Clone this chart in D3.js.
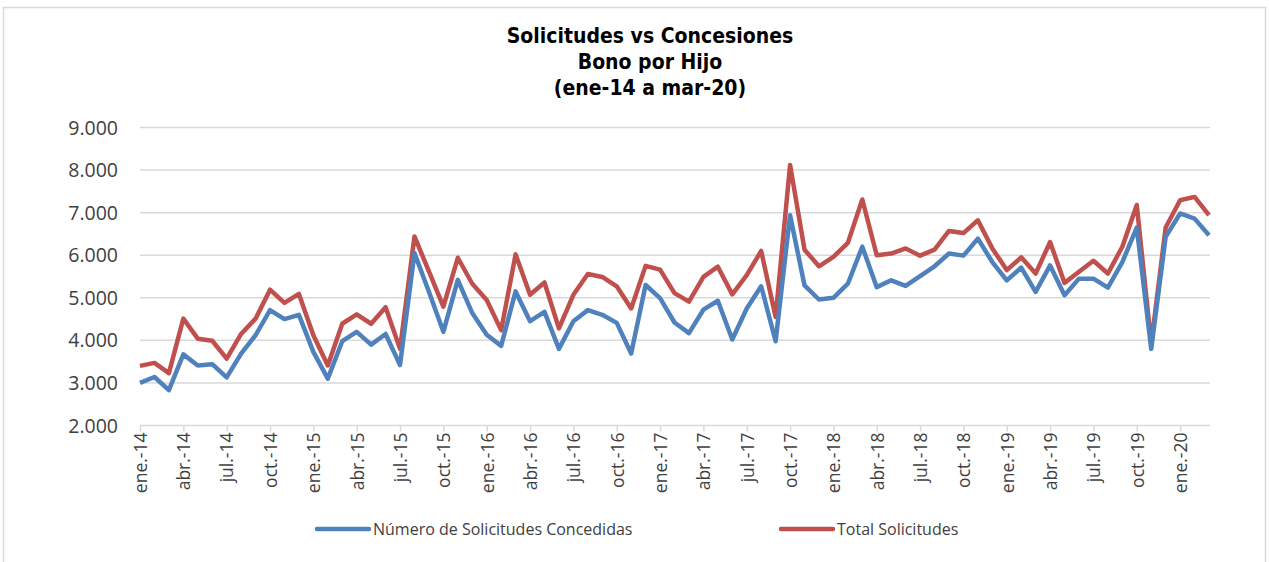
<!DOCTYPE html>
<html>
<head>
<meta charset="utf-8">
<script src="https://cdn.jsdelivr.net/npm/d3@7"></script>
<style>
  body { margin: 0; background: #fff; }
  text { font-family: "Open Sans", "Noto Sans", sans-serif; fill: #404040; }
</style>
</head>
<body>
<div id="chart"></div>
<script>
// month labels ene.-14 ... mar.-20
const monthNames = ["ene.","feb.","mar.","abr.","may.","jun.","jul.","ago.","sep.","oct.","nov.","dic."];
const months = [];
for (let y = 14; y <= 20; y++) {
    for (let m = 0; m < 12; m++) {
        if (y == 20 && m > 2) break;
        months.push(monthNames[m] + "-" + y);
    }
}

// Número de Solicitudes Concedidas
const concedidas = [
    3000, 3140, 2830, 3670, 3410, 3440, 3130, 3690, 4120, 4710, 4500, 4600,
    3730, 3100, 3980, 4200, 3900, 4150, 3420, 6050, 5140, 4200, 5420, 4640,
    4130, 3870, 5150, 4450, 4670, 3800, 4450, 4710, 4600, 4410, 3690, 5300,
    4990, 4420, 4170, 4720, 4930, 4020, 4750, 5270, 3980, 6940, 5290, 4960,
    5000, 5330, 6200, 5250, 5410, 5280, 5510, 5740, 6040, 5990, 6390, 5840,
    5410, 5710, 5140, 5760, 5060, 5450, 5450, 5240, 5840, 6650, 3800, 6430,
    6980, 6860, 6470
];
// Total Solicitudes
const totales = [
    3400, 3470, 3230, 4510, 4040, 3990, 3570, 4150, 4510, 5190, 4880, 5090,
    4120, 3410, 4390, 4610, 4390, 4780, 3800, 6440, 5620, 4790, 5940, 5330,
    4950, 4240, 6020, 5070, 5360, 4280, 5070, 5560, 5490, 5270, 4750, 5750,
    5660, 5110, 4910, 5490, 5730, 5080, 5530, 6100, 4550, 8120, 6130, 5740,
    5960, 6290, 7310, 6000, 6040, 6160, 5990, 6130, 6570, 6520, 6820, 6160,
    5650, 5950, 5570, 6310, 5350, 5610, 5870, 5570, 6200, 7180, 3920, 6650,
    7290, 7370, 6940
];
const yTicks = [2000, 3000, 4000, 5000, 6000, 7000, 8000, 9000];
const titleLines = ["Solicitudes vs Concesiones", "Bono por Hijo", "(ene-14 a mar-20)"];
const seriesNames = ["Número de Solicitudes Concedidas", "Total Solicitudes"];
const colors = ["#4f81bd", "#c0504d"];

const W = 1269, H = 562;
const svg = d3.select("#chart").append("svg")
    .attr("width", W).attr("height", H);

// outer chart border
svg.append("rect")
    .attr("x", 3.5).attr("y", 7.5)
    .attr("width", 1262).attr("height", 570)
    .attr("fill", "none").attr("stroke", "#d9d9d9").attr("stroke-width", 1.5);

var x = d3.scalePoint()
    .domain(months)
    .range([140, 1209]);
var y = d3.scaleLinear()
    .domain([2000, 9000])
    .range([425.5, 127.5]);

// gridlines
svg.append("g")
    .selectAll("line")
    .data(yTicks.slice(1))
    .join("line")
    .attr("x1", 140).attr("x2", 1210)
    .attr("y1", d => y(d)).attr("y2", d => y(d))
    .attr("stroke", "#d9d9d9").attr("stroke-width", 1.5);

// y labels
const fmt = d3.format(",");
svg.append("g")
    .selectAll("text")
    .data(yTicks)
    .join("text")
    .attr("x", 118)
    .attr("y", d => y(d))
    .attr("dy", "0.36em")
    .attr("text-anchor", "end")
    .attr("font-size", "19.5px")
    .text(d => fmt(d).replace(",", "."));

// x axis
var xAxis = d3.axisBottom(x)
    .tickValues(months.filter((d, i) => i % 3 == 0))
    .tickSize(6)
    .tickSizeOuter(0);
var gx = svg.append("g")
    .attr("transform", "translate(0," + y(2000) + ")")
    .call(xAxis);
gx.select(".domain").attr("stroke", "#d9d9d9").attr("stroke-width", 1.5).attr("d", "M140,0H1210");
gx.selectAll(".tick line").attr("stroke", "#d9d9d9").attr("stroke-width", 1.5);
gx.selectAll(".tick text")
    .attr("font-size", "17.5px")
    .attr("fill", "#404040")
    .attr("font-family", "'Open Sans', sans-serif")
    .style("text-anchor", "end")
    .attr("transform", "rotate(-90)")
    .attr("x", -7)
    .attr("y", 0)
    .attr("dy", "0.36em");

// lines
var line = d3.line()
    .x((d, i) => x(months[i]))
    .y(d => y(d));
// red first so blue overlaps where they touch
[totales, concedidas].forEach(function(s, k) {
    svg.append("path")
        .datum(s)
        .attr("fill", "none")
        .attr("stroke", k == 0 ? colors[1] : colors[0])
        .attr("stroke-width", 4.5)
        .attr("stroke-linejoin", "round")
        .attr("d", line);
});

// title
svg.append("g")
    .selectAll("text")
    .data(titleLines)
    .join("text")
    .attr("x", 650)
    .attr("y", (d, i) => 43 + i * 26)
    .attr("text-anchor", "middle")
    .attr("font-size", "21px")
    .attr("font-weight", "bold")
    .style("fill", "#000")
    .style("font-family", "'Liberation Sans Narrow', 'DejaVu Sans Condensed', sans-serif")
    .text(d => d);

// legend
const legX = [317, 781];
seriesNames.forEach(function(n, i) {
    svg.append("line")
        .attr("x1", legX[i]).attr("x2", legX[i] + 52)
        .attr("y1", 529).attr("y2", 529)
        .attr("stroke", colors[i]).attr("stroke-width", 4.5)
        .attr("stroke-linecap", "round");
    svg.append("text")
        .attr("x", legX[i] + 56)
        .attr("y", 529)
        .attr("dy", "0.36em")
        .attr("font-size", "16px")
        .text(n);
});
</script>
</body>
</html>
